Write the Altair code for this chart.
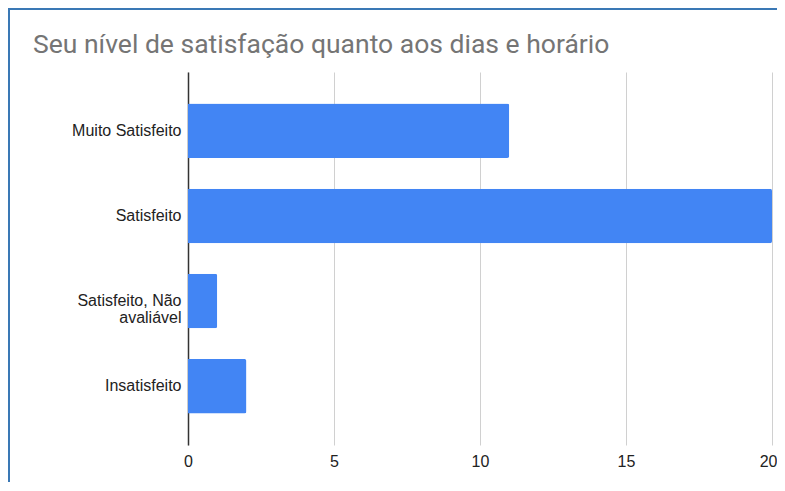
import altair as alt
import pandas as pd

categories = ["Muito Satisfeito", "Satisfeito", "Satisfeito, Não avaliável", "Insatisfeito"]
values = [11, 20, 1, 2]
x_ticks = [0, 5, 10, 15, 20]
title_text = "Seu nível de satisfação quanto aos dias e horário"

df = pd.DataFrame({"categoria": categories, "valor": values})
title_df = pd.DataFrame({"t": [title_text]})

W, H = 584, 373
PAD_L, PAD_T = 180, 64

bars = alt.Chart(df).mark_bar(color="#4285F4", cornerRadiusEnd=2).encode(
    x=alt.X("valor:Q",
            scale=alt.Scale(domain=[0, 20], nice=False),
            axis=alt.Axis(values=x_ticks, title=None, grid=True, gridColor="#d0d0d0",
                          domain=False, ticks=False, labelPadding=8, labelFontSize=16,
                          labelFlush=False,
                          labelAlign=alt.condition("datum.value == 20", alt.value("right"), alt.value("center")),
                          labelOffset=alt.condition("datum.value == 20", alt.value(5), alt.value(0)),
                          labelColor="#222222", labelFont="Liberation Sans")),
    y=alt.Y("categoria:N", sort=categories,
            scale=alt.Scale(paddingInner=0.36, paddingOuter=0.37),
            axis=alt.Axis(title=None, ticks=False, domain=True, domainColor="#333333",
                          domainWidth=1.5, labelPadding=7, labelFontSize=16,
                          labelColor="#222222", labelFont="Liberation Sans",
                          labelLimit=200, labelLineHeight=17,
                          labelExpr="datum.value == 'Satisfeito, Não avaliável' ? ['Satisfeito, Não', 'avaliável'] : datum.value")),
)

title = alt.Chart(title_df).mark_text(
    align="left", baseline="alphabetic", fontSize=26.5, font="Roboto", color="#757575"
).encode(x=alt.value(33 - 188), y=alt.value(53 - 72), text="t:N")

border_top = alt.Chart(df).mark_rule(color="#3a78b5", strokeWidth=2).encode(
    x=alt.value(-PAD_L), x2=alt.value(W + 200), y=alt.value(-PAD_T + 1)
)
border_left = alt.Chart(df).mark_rule(color="#3a78b5", strokeWidth=2).encode(
    x=alt.value(-PAD_L + 1), y=alt.value(-PAD_T), y2=alt.value(H + 200)
)

chart = alt.layer(bars, title, border_top, border_left).properties(
    width=W, height=H,
    padding={"left": PAD_L, "top": PAD_T, "right": 5, "bottom": 37},
    autosize=alt.AutoSizeParams(type="none"),
).configure_view(stroke=None)

chart.save("out.html", embed_options={"renderer": "svg", "actions": False})
